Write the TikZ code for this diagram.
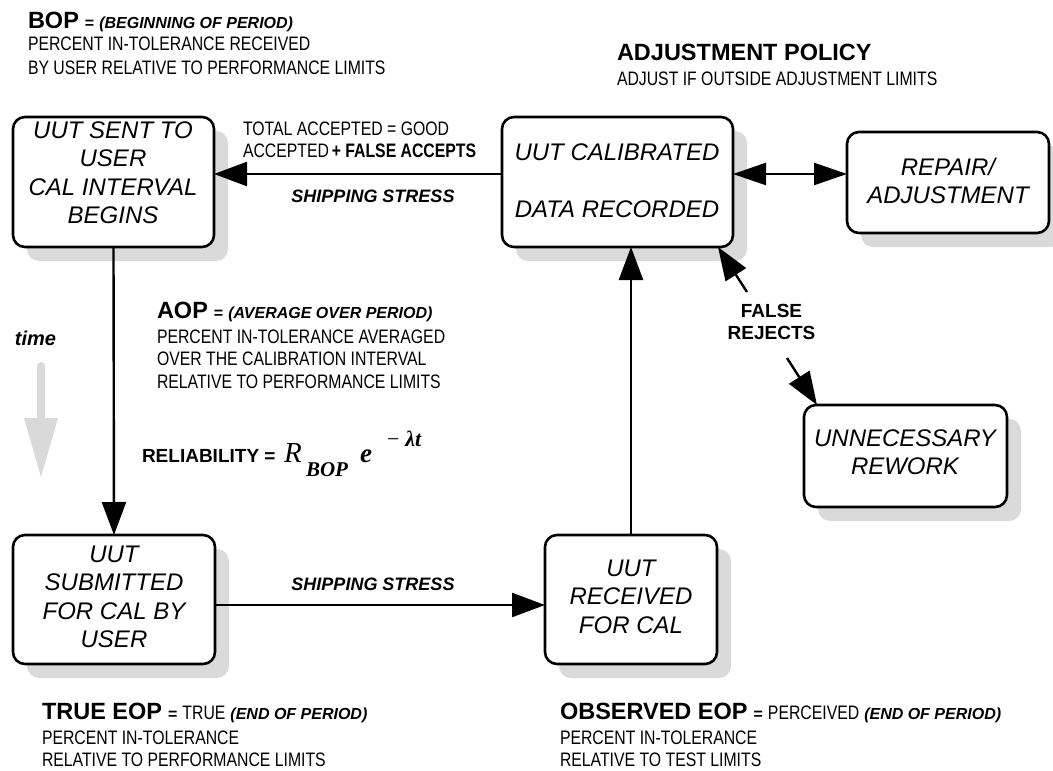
\documentclass[tikz,border=0pt]{standalone}
\usepackage{fontspec}
\setmainfont{Liberation Sans}
\newfontfamily\narrowsans{Liberation Sans}[FakeStretch=0.81]
\newfontfamily\timesfont{Liberation Serif}
\usetikzlibrary{arrows.meta,shadows}

\definecolor{shade}{HTML}{DADADA}
\definecolor{timegray}{HTML}{D9D9D9}

% text helpers
\newcommand\headw[1]{{\fontsize{23.5}{23.5}\selectfont\bfseries #1}}
\newcommand\eqsign{{\fontsize{16}{16}\selectfont\bfseries =}}
\newcommand\smallbi[1]{{\fontsize{16}{16}\selectfont\bfseries\itshape #1}}
\newcommand\plain[1]{{\narrowsans\fontsize{19.5}{19.5}\selectfont #1}}
\newcommand\plainbf[1]{{\narrowsans\fontsize{19.5}{19.5}\selectfont\bfseries #1}}

\tikzset{
  every node/.style={inner sep=0pt, outer sep=0pt},
  box/.style={draw, line width=2.6pt, rounded corners=12pt, fill=white,
    drop shadow={shadow xshift=14pt, shadow yshift=-14pt, fill=shade, opacity=1}},
  boxtxt/.style={font=\fontsize{24}{28.5}\selectfont\itshape, align=center},
  note/.style={anchor=base west},
  conn/.style={line width=2.4pt, -{Triangle[length=33pt,width=24pt]}},
  dconn/.style={line width=2.4pt, {Triangle[length=33pt,width=22pt]}-{Triangle[length=33pt,width=22pt]}},
  stress/.style={anchor=base, font=\fontsize{18}{18}\selectfont\bfseries\itshape},
}

\begin{document}
\begin{tikzpicture}[x=1pt, y=-1pt]
\useasboundingbox (0,0) rectangle (1053,771);

% process boxes
\node[box, minimum width=201pt, minimum height=130pt] (sent)   at (113.5,182) {};
\node[box, minimum width=231pt, minimum height=130pt] (cal)    at (617.5,182) {};
\node[box, minimum width=202pt, minimum height=101pt] (repair) at (948,182.5) {};
\node[box, minimum width=203pt, minimum height=102pt] (rework) at (905.5,456) {};
\node[box, minimum width=202pt, minimum height=129pt] (sub)    at (114,599.5) {};
\node[box, minimum width=172pt, minimum height=129pt] (rec)    at (631,599.5) {};

% box texts
\node[boxtxt] (sentT)   at (113,172.5) {UUT SENT TO\\USER\\CAL INTERVAL\\BEGINS};
\node[boxtxt] (calT)    at (617,181) {UUT CALIBRATED\\[28.5pt]DATA RECORDED};
\node[boxtxt] (repairT) at (948,181) {REPAIR/\\ADJUSTMENT};
\node[boxtxt] (reworkT) at (905,452) {UNNECESSARY\\REWORK};
\node[boxtxt] (subT)    at (114,597) {UUT\\SUBMITTED\\FOR CAL BY\\USER};
\node[boxtxt] (recT)    at (631,596.5) {UUT\\RECEIVED\\FOR CAL};

% connectors
\coordinate (topy) at ([yshift=8pt]cal.west);
\draw[conn] (topy) -- (topy -| sent.east);
\coordinate (ry) at ([yshift=8pt]cal.east);
\draw[dconn] (ry) -- (ry -| repair.west);
\draw[conn] (sent.south) -- (sub.north);
\coordinate (boty) at ([yshift=-5.5pt]sub.east);
\draw[conn] (boty) -- (boty -| rec.west);
\draw[conn] (rec.north) -- (rec.north |- cal.south);

% false rejects
\node[align=center, font=\fontsize{19}{22}\selectfont\bfseries] (fr) at (771.5,322) {FALSE\\REJECTS};
\coordinate (frA) at (747,292);
\draw[conn] (frA) -- ([xshift=-15pt]cal.south east);
\coordinate (frB) at (787,358);
\draw[conn] (frB) -- ([xshift=13pt]rework.north west);

% shipping labels
\node[stress] (shipA) at (373,202) {SHIPPING STRESS};
\node[stress] (shipB) at (373,590) {SHIPPING STRESS};

% acceptance note
\node[note] (accA) at (243,135) {\plain{TOTAL ACCEPTED = GOOD}};
\node[note] (accB) at (243,157) {\plain{ACCEPTED} \plainbf{+ FALSE ACCEPTS}};

% BOP
\node[note] (bopA) at (28,28) {\headw{BOP}\hspace{6pt}\eqsign\hspace{5pt}\smallbi{(BEGINNING OF PERIOD)}};
\node[note] (bopB) at (28,50) {\plain{PERCENT IN-TOLERANCE RECEIVED}};
\node[note] (bopC) at (28,74) {\plain{BY USER RELATIVE TO PERFORMANCE LIMITS}};

% adjustment policy
\node[note] (adjA) at (617,60) {\headw{ADJUSTMENT POLICY}};
\node[note] (adjB) at (617,85) {\plain{ADJUST IF OUTSIDE ADJUSTMENT LIMITS}};

% AOP
\node[note] (aopA) at (157,318) {\headw{AOP}\hspace{6pt}\eqsign\hspace{5pt}\smallbi{(AVERAGE OVER PERIOD)}};
\node[note] (aopB) at (157,343) {\plain{PERCENT IN-TOLERANCE AVERAGED}};
\node[note] (aopC) at (157,365) {\plain{OVER THE CALIBRATION INTERVAL}};
\node[note] (aopD) at (157,388) {\plain{RELATIVE TO PERFORMANCE LIMITS}};

% reliability formula, set piece by piece
\node[note, font=\fontsize{19}{19}\selectfont\bfseries] (rel) at (142,462) {RELIABILITY =};
\node[note, font=\timesfont\fontsize{29}{29}\selectfont\itshape] (formR) at (284,462) {R};
\node[note, font=\timesfont\fontsize{21}{21}\selectfont\bfseries\itshape] (formSub) at (306,476) {BOP};
\node[note, font=\timesfont\fontsize{27}{27}\selectfont\bfseries\itshape] (formE) at (360,462) {e};
\node[note, font=\timesfont\fontsize{22}{22}\selectfont] (formExp) at (387,446) {−\hspace{6pt}{\bfseries\itshape λt}};

% time arrow
\node[note, font=\fontsize{20}{20}\selectfont\bfseries\itshape] (timelbl) at (15,345) {time};
\draw[timegray, line width=8pt, line cap=round] (41,366) -- (41,420);
\fill[timegray] (24,418) -- (58,418) -- (41,477) -- cycle;

% end of period notes
\node[note] (trA) at (42,719) {\headw{TRUE EOP}\hspace{6pt}\eqsign\hspace{5pt}\plain{TRUE}\hspace{5pt}\smallbi{(END OF PERIOD)}};
\node[note] (trB) at (42,744) {\plain{PERCENT IN-TOLERANCE}};
\node[note] (trC) at (42,766) {\plain{RELATIVE TO PERFORMANCE LIMITS}};
\node[note] (obA) at (560,719) {\headw{OBSERVED EOP}\hspace{6pt}\eqsign\hspace{5pt}\plain{PERCEIVED}\hspace{5pt}\smallbi{(END OF PERIOD)}};
\node[note] (obB) at (560,744) {\plain{PERCENT IN-TOLERANCE}};
\node[note] (obC) at (560,766) {\plain{RELATIVE TO TEST LIMITS}};
\end{tikzpicture}
\end{document}
